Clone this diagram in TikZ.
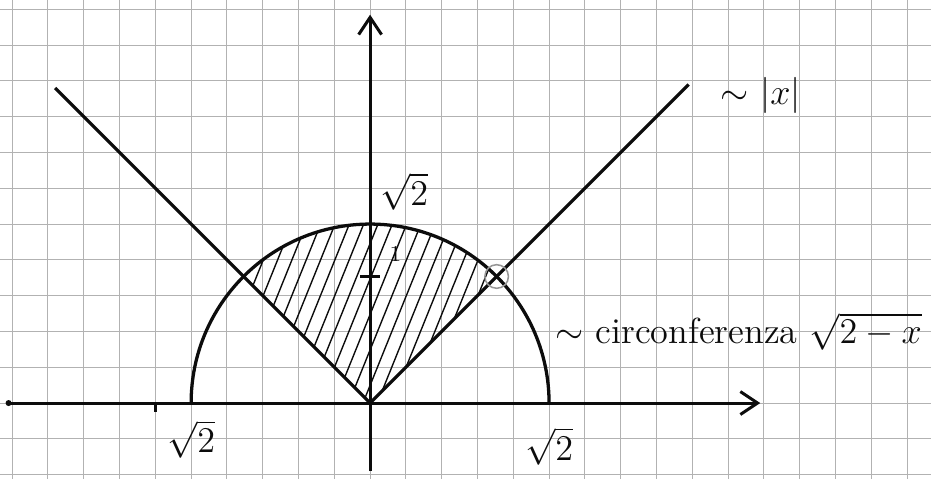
\documentclass[tikz,border=0pt]{standalone}
\usetikzlibrary{arrows.meta,calc,positioning}
\definecolor{ink}{RGB}{12,12,12}
\definecolor{gridline}{RGB}{178,178,178}
\definecolor{smudge}{RGB}{150,150,150}

\begin{document}
\begin{tikzpicture}[
  x=0.5cm,y=0.5cm,
  axis/.style={-{Straight Barb[length=2.4mm,width=3.2mm]}, draw=ink,
               line width=1.2pt},
  curve/.style={draw=ink, line width=1.3pt},
  hatch/.style={draw=ink, line width=0.55pt},
  tick/.style={draw=ink, line width=1pt},
  lbl/.style={font=\Large, text=ink, inner sep=1pt}
]
\useasboundingbox (-10.34,-2.12) rectangle (15.67,11.26);
\fill[white] (-10.34,-2.12) rectangle (15.67,11.26);

% Squared paper, one square per unit.
\draw[gridline, line width=0.4pt, step=0.5cm] (-10.34,-2.12) grid (15.67,11.26);

% Named points of the plot.
\coordinate (O) at (0,0);
\coordinate (P) at (45:5);
\coordinate (Q) at (135:5);
\coordinate (R) at (5,0);
\coordinate (L) at (-5,0);
\coordinate (T) at (0,5);

% Hatched sector between |x| and the circle.
\begin{scope}
  \clip (O) -- (P) arc[start angle=45, end angle=135, radius=5] -- cycle;
  \foreach \s in {-5.8,-5.4,...,3.8}
    \draw[hatch] (\s,0) -- ++(68:6);
\end{scope}

% Axes.
\draw[axis] (-10.1,0) -- (10.9,0);
\draw[axis] (0,-1.9) -- (0,10.85);
\fill[ink] (-10.1,0) circle[radius=1.2pt];
\draw[tick] (-6,0) -- (-6,-0.25);
\draw[tick] (-0.28,3.54) -- (0.28,3.54);

% Upper half of the circle and the graph of |x|.
\draw[curve] (R) arc[start angle=0, end angle=180, radius=5];
\draw[curve] (-8.8,8.8) coordinate (lend) -- (O) -- (8.9,8.9) coordinate (rend);

% Mark at the right intersection.
\draw[smudge, line width=0.6pt] (P) circle[radius=0.33];

% Labels.
\node[lbl, anchor=south west] (ltop) at ([xshift=1mm,yshift=1.5mm]T) {$\sqrt{2}$};
\node[font=\small, text=ink, anchor=south west] (lone) at (0.3,3.7) {1};
\node[lbl, below=2mm of L] (lleft) {$\sqrt{2}$};
\node[lbl, below=3mm of R] (lright) {$\sqrt{2}$};
\node[lbl, anchor=west] (labs) at (9.7,8.6) {$\sim$\ $|x|$};
\node[lbl, anchor=west] (lcirc) at (5.1,2.0) {$\sim$ circonferenza $\sqrt{2-x}$};
\end{tikzpicture}
\end{document}
